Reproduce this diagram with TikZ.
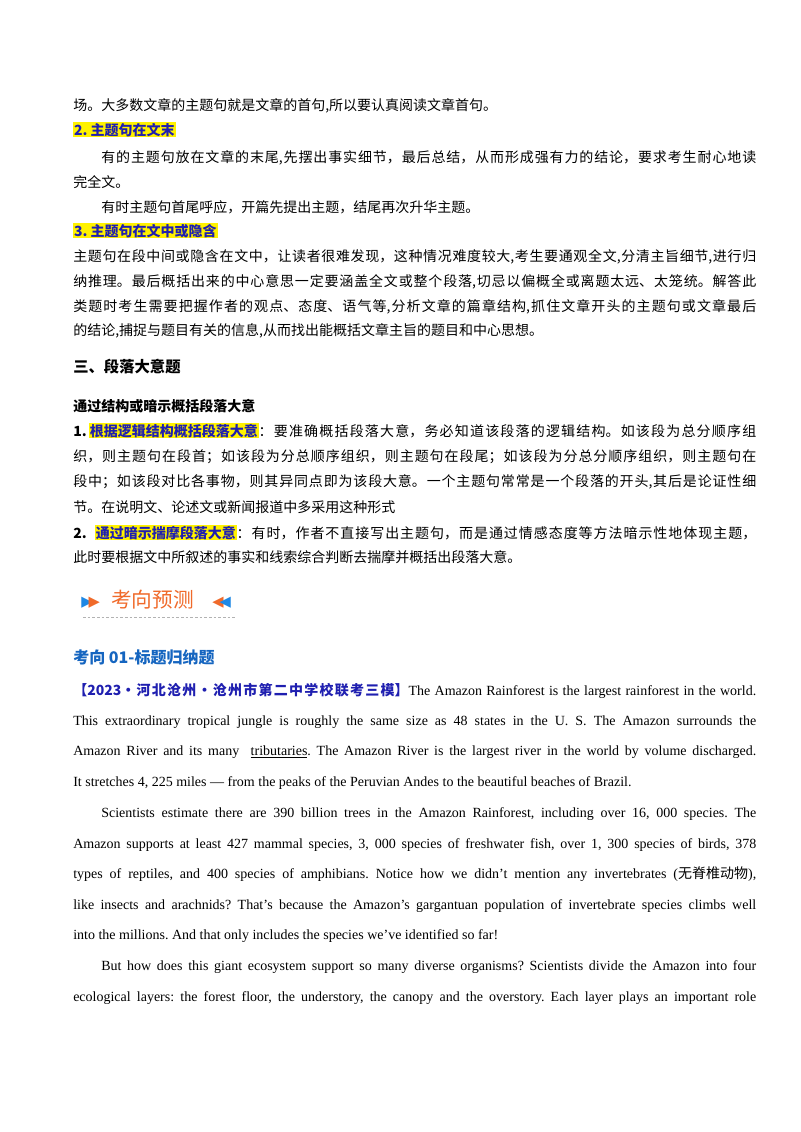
\documentclass[tikz,border=0pt]{standalone}
\usepackage{fontspec}
\usepackage{xcolor}
\setmainfont{Liberation Serif}
\newfontfamily\cjk{Noto Sans CJK SC}
\newfontfamily\sym{DejaVu Sans}
\definecolor{hblue}{HTML}{1F1FB0}
\definecolor{tblue}{HTML}{1565C0}
\definecolor{borange}{HTML}{F06A2A}
\definecolor{bblue}{HTML}{1E88E5}
\XeTeXlinebreaklocale "zh"
\XeTeXlinebreakskip=0pt plus 2pt
\frenchspacing
\newcommand{\hl}[1]{{\setlength{\fboxsep}{0.6pt}\colorbox{yellow}{#1}}}
\newcommand{\Ln}[4]{\node[anchor=base west,inner sep=0,text width=#3pt,align=justify] at (#1,#2) {\noindent\parfillskip=0pt\relax #4\par};}
\newcommand{\Lf}[3]{\node[anchor=base west,inner sep=0] at (#1,#2) {#3};}
\begin{document}
\begin{tikzpicture}[x=0.75pt,y=-0.75pt]
\useasboundingbox[fill=white] (0,0) rectangle (800,1132);
\fontsize{10.5pt}{12pt}\selectfont
\begin{scope}[font=\cjk\fontsize{10.5pt}{12pt}\selectfont]
\Lf{73}{110}{场。大多数文章的主题句就是文章的首句,所以要认真阅读文章首句。}
\Lf{73}{135}{\hl{\bfseries\color{hblue}2. 主题句在文末}}
\Ln{101}{162}{491.25}{有的主题句放在文章的末尾,先摆出事实细节，最后总结，从而形成强有力的结论，要求考生耐心地读}
\Lf{73}{187}{完全文。}
\Lf{101}{212}{有时主题句首尾呼应，开篇先提出主题，结尾再次升华主题。}
\Lf{73}{236}{\hl{\bfseries\color{hblue}3. 主题句在文中或隐含}}
\Ln{73}{261}{512.25}{主题句在段中间或隐含在文中，让读者很难发现，这种情况难度较大,考生要通观全文,分清主旨细节,进行归}
\Ln{73}{286}{512.25}{纳推理。最后概括出来的中心意思一定要涵盖全文或整个段落,切忌以偏概全或离题太远、太笼统。解答此}
\Ln{73}{311}{512.25}{类题时考生需要把握作者的观点、态度、语气等,分析文章的篇章结构,抓住文章开头的主题句或文章最后}
\Lf{73}{335}{的结论,捕捉与题目有关的信息,从而找出能概括文章主旨的题目和中心思想。}
\Lf{73}{372}{\fontsize{11.5pt}{13pt}\selectfont\bfseries 三、段落大意题}
\Lf{73}{411}{\bfseries 通过结构或暗示概括段落大意}
\Ln{73}{436}{512.25}{{\bfseries 1.\,\hl{\color{hblue}根据逻辑结构概括段落大意}}：要准确概括段落大意，务必知道该段落的逻辑结构。如该段为总分顺序组}
\Ln{73}{461}{512.25}{织，则主题句在段首；如该段为分总顺序组织，则主题句在段尾；如该段为分总分顺序组织，则主题句在}
\Ln{73}{486}{512.25}{段中；如该段对比各事物，则其异同点即为该段大意。一个主题句常常是一个段落的开头,其后是论证性细}
\Lf{73}{512}{节。在说明文、论述文或新闻报道中多采用这种形式}
\Ln{73}{538}{512.25}{{\bfseries 2.\hspace{0.6em}\hl{\color{hblue}通过暗示揣摩段落大意}}：有时，作者不直接写出主题句，而是通过情感态度等方法暗示性地体现主题，}
\Lf{73}{562}{此时要根据文中所叙述的事实和线索综合判断去揣摩并概括出段落大意。}
\end{scope}
% banner
\node[anchor=base west,inner sep=0,font=\sym\fontsize{11pt}{12pt}\selectfont] (tl) at (81,606) {\textcolor{bblue}{▶}\hspace{-3pt}\textcolor{borange}{▶}};
\node[anchor=base west,inner sep=0,font=\cjk\fontsize{15.5pt}{17pt}\selectfont,text=borange] (bt) at (111,607) {考向预测};
\node[anchor=base west,inner sep=0,font=\sym\fontsize{11pt}{12pt}\selectfont] (tr) at (212,606) {\textcolor{borange}{◀}\hspace{-3pt}\textcolor{bblue}{◀}};
\coordinate (da) at (83,617); \coordinate (db) at (237,617);
\draw[gray!60,dash pattern=on 2pt off 1.5pt,line width=0.6pt] (da) -- (db);
\node[anchor=base west,inner sep=0,font=\cjk\bfseries\fontsize{12pt}{14pt}\selectfont,text=tblue] (kx) at (73,663) {考向 01-标题归纳题};
% English passage
\Ln{73}{695}{512.25}{{\cjk\bfseries\color{hblue}【2023·河北沧州·沧州市第二中学校联考三模】}The Amazon Rainforest is the largest rainforest in the world.}
\Ln{73}{725}{512.25}{This extraordinary tropical jungle is roughly the same size as 48 states in the U. S. The Amazon surrounds the}
\Ln{73}{755}{512.25}{Amazon River and its many \ \underline{tributaries}. The Amazon River is the largest river in the world by volume discharged.}
\Lf{73}{786}{It stretches 4, 225 miles — from the peaks of the Peruvian Andes to the beautiful beaches of Brazil.}
\Ln{101}{817}{491.25}{Scientists estimate there are 390 billion trees in the Amazon Rainforest, including over 16, 000 species. The}
\Ln{73}{848}{512.25}{Amazon supports at least 427 mammal species, 3, 000 species of freshwater fish, over 1, 300 species of birds, 378}
\Ln{73}{878}{512.25}{types of reptiles, and 400 species of amphibians. Notice how we didn’t mention any invertebrates (\mbox{\cjk 无脊椎动物}),}
\Ln{73}{909}{512.25}{like insects and arachnids? That’s because the Amazon’s gargantuan population of invertebrate species climbs well}
\Lf{73}{939}{into the millions. And that only includes the species we’ve identified so far!}
\Ln{101}{970}{491.25}{But how does this giant ecosystem support so many diverse organisms? Scientists divide the Amazon into four}
\Ln{73}{1001}{512.25}{ecological layers: the forest floor, the understory, the canopy and the overstory. Each layer plays an important role}
\end{tikzpicture}
\end{document}
